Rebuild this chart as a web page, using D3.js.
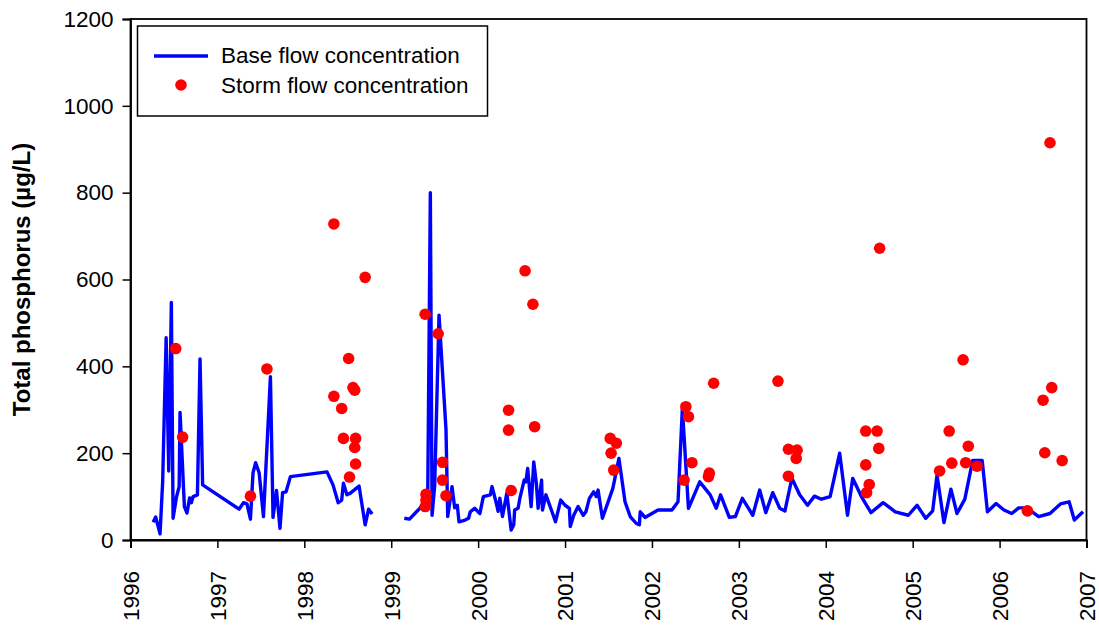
<!DOCTYPE html>
<html>
<head>
<meta charset="utf-8">
<script src="https://cdn.jsdelivr.net/npm/d3@7"></script>
<style>
  body { margin: 0; background: #fff; }
  svg { display: block; }
  text { font-family: "Liberation Sans", Arial, sans-serif; fill: #000; }
</style>
</head>
<body>
<svg id="chart" width="1099" height="627"></svg>
<script>
// ---- Data (decimal years, µg/L) ----
const baseYears = [
  1996.26,1996.29,1996.34,1996.37,1996.41,1996.44,1996.47,1996.49,1996.53,1996.56,1996.57,1996.62,1996.65,1996.68,1996.70,1996.72,1996.77,1996.80,1996.83,
  1997.25,1997.30,1997.34,1997.38,1997.41,1997.44,1997.48,1997.53,1997.61,1997.64,1997.68,1997.72,1997.75,1997.79,1997.84,
  1998.26,1998.33,1998.39,1998.43,1998.45,1998.49,1998.53,1998.63,1998.70,1998.74,1998.78,
  1998.95,
  1999.15,1999.21,1999.31,1999.38,1999.42,1999.45,1999.47,1999.50,1999.55,1999.63,1999.65,1999.70,1999.73,1999.76,1999.78,1999.85,1999.89,1999.91,1999.96,
  2000.02,2000.06,2000.14,2000.16,2000.21,2000.23,2000.25,2000.28,2000.33,2000.38,2000.41,2000.42,2000.46,2000.48,2000.53,2000.55,2000.57,2000.61,2000.64,2000.67,2000.69,2000.73,2000.74,2000.78,2000.85,2000.89,2000.95,
  2001.00,2001.05,2001.06,2001.10,2001.15,2001.21,2001.24,2001.28,2001.33,2001.36,2001.38,2001.43,2001.55,2001.62,2001.69,2001.75,2001.82,2001.855,2001.865,2001.92,
  2002.07,2002.23,2002.30,2002.35,2002.42,2002.55,2002.67,2002.74,2002.79,2002.89,2002.96,
  2003.04,2003.16,2003.24,2003.31,2003.39,2003.47,2003.53,2003.61,2003.70,2003.79,2003.87,2003.95,
  2004.05,2004.16,2004.25,2004.31,2004.41,2004.52,2004.66,2004.80,2004.95,
  2005.05,2005.15,2005.23,2005.28,2005.36,2005.44,2005.51,2005.60,2005.69,2005.80,2005.86,2005.96,
  2006.05,2006.14,2006.22,2006.31,2006.45,2006.58,2006.70,2006.80,2006.86,2006.96
];
const baseValues = [
  41,53,14,134,466,159,547,50,100,123,294,77,62,97,86,100,104,417,127,
  71,86,83,48,155,178,155,54,376,52,114,27,109,111,146,
  157,127,86,92,131,104,108,124,35,71,60,
  null,
  50,48,69,85,100,800,57,125,518,255,54,123,74,80,42,46,50,65,73,
  61,100,104,123,84,66,96,54,108,23,35,69,73,96,138,134,165,77,180,130,73,138,69,104,65,42,92,
  80,73,31,57,77,57,65,96,111,100,115,50,119,188,88,54,38,35,65,52,
  69,69,88,303,73,134,104,73,104,52,54,
  96,57,115,63,109,73,67,142,104,80,101,94,
  100,200,57,142,100,63,86,65,57,
  80,50,67,150,40,117,61,94,183,183,65,84,
  69,61,74,74,54,61,83,88,46,65
];
const stormYears = [
  1996.52,1996.60,1997.38,1997.57,
  1998.34,1998.34,1998.43,1998.45,1998.51,1998.52,1998.56,1998.58,1998.59,1998.58,1998.59,1998.70,
  1999.39,1999.40,1999.40,1999.39,1999.54,1999.59,1999.59,1999.63,
  2000.35,2000.35,2000.38,2000.54,2000.63,2000.65,
  2001.52,2001.59,2001.53,2001.56,
  2002.37,2002.39,2002.42,2002.46,2002.65,2002.66,2002.71,
  2003.45,2003.57,2003.57,2003.66,2003.67,
  2004.46,2004.46,2004.47,2004.50,2004.59,2004.61,2004.62,
  2005.31,2005.42,2005.45,2005.58,2005.61,2005.64,2005.74,
  2006.32,2006.50,2006.52,2006.58,2006.60,2006.72
];
const stormValues = [
  441,237,101,394,
  728,331,303,234,418,145,351,345,234,213,175,605,
  520,105,92,77,475,179,138,102,
  299,253,114,620,543,261,
  234,223,200,161,
  138,307,284,178,146,154,361,
  366,209,147,188,207,
  251,173,109,128,251,211,672,
  159,251,177,415,178,216,170,
  67,322,201,915,351,183
];
const xTicks = [1996,1997,1998,1999,2000,2001,2002,2003,2004,2005,2006,2007];
const yTicks = [0,200,400,600,800,1000,1200];
const seriesNames = ["Base flow concentration", "Storm flow concentration"];
const yTitle = "Total phosphorus (µg/L)";

// ---- Layout ----
const svg = d3.select("#chart");
const mLeft = 130.5, mRight = 1086.5, mTop = 19, mBottom = 540;

const x = d3.scaleLinear().domain([1996, 2007]).range([mLeft, mRight]);
const y = d3.scaleLinear().domain([0, 1200]).range([mBottom, mTop]);

// frame
svg.append("rect")
  .attr("x", mLeft).attr("y", mTop)
  .attr("width", mRight - mLeft).attr("height", mBottom - mTop)
  .attr("fill", "none").attr("stroke", "#000").attr("stroke-width", 1.8);

// y axis
const yAxis = svg.append("g")
  .attr("transform", `translate(${mLeft},0)`)
  .call(d3.axisLeft(y).tickValues(yTicks).tickSize(8).tickPadding(9).tickFormat(d3.format("d")));
yAxis.select(".domain").attr("stroke-width", 1.8);
yAxis.selectAll(".tick line").attr("stroke-width", 1.5);
yAxis.selectAll("text").style("font-size", "22.5px").style("font-family", "Liberation Sans, Arial, sans-serif");

// x axis
const xAxis = svg.append("g")
  .attr("transform", `translate(0,${mBottom})`)
  .call(d3.axisBottom(x).tickValues(xTicks).tickSize(8).tickFormat(d3.format("d")));
xAxis.select(".domain").attr("stroke-width", 1.8);
xAxis.selectAll(".tick line").attr("stroke-width", 1.5);
xAxis.selectAll("text")
  .style("font-size", "22.5px").style("font-family", "Liberation Sans, Arial, sans-serif")
  .attr("text-anchor", "end")
  .attr("transform", "rotate(-90)")
  .attr("x", -31).attr("y", 0).attr("dy", "0.35em");

// y title
svg.append("text")
  .attr("transform", `translate(30,${(mTop + mBottom) / 2}) rotate(-90)`)
  .attr("text-anchor", "middle")
  .style("font-size", "24px").style("font-weight", "bold")
  .text(yTitle);

// base flow line
const baseData = baseYears.map((d, i) => ({ x: d, v: baseValues[i] }));
const line = d3.line()
  .defined(d => d.v !== null)
  .x(d => x(d.x)).y(d => y(d.v));
svg.append("path")
  .datum(baseData)
  .attr("fill", "none").attr("stroke", "#0000ff")
  .attr("stroke-width", 3.4).attr("stroke-linejoin", "round")
  .attr("d", line);

// storm dots
const stormData = stormYears.map((d, i) => ({ x: d, v: stormValues[i] }));
svg.append("g").selectAll("circle")
  .data(stormData).enter().append("circle")
  .attr("cx", d => x(d.x)).attr("cy", d => y(d.v))
  .attr("r", 5.8).attr("fill", "#ff0000");

// legend
const lg = svg.append("g");
lg.append("rect")
  .attr("x", 137.5).attr("y", 26)
  .attr("width", 350).attr("height", 90)
  .attr("fill", "#fff").attr("stroke", "#000").attr("stroke-width", 1.5);
lg.append("line")
  .attr("x1", 154).attr("x2", 208).attr("y1", 56).attr("y2", 56)
  .attr("stroke", "#0000ff").attr("stroke-width", 3.4);
lg.append("circle").attr("cx", 181).attr("cy", 85).attr("r", 5.8).attr("fill", "#ff0000");
lg.append("text").attr("x", 221).attr("y", 63).style("font-size", "22.5px").text(seriesNames[0]);
lg.append("text").attr("x", 221).attr("y", 93).style("font-size", "22.5px").text(seriesNames[1]);
</script>
</body>
</html>
